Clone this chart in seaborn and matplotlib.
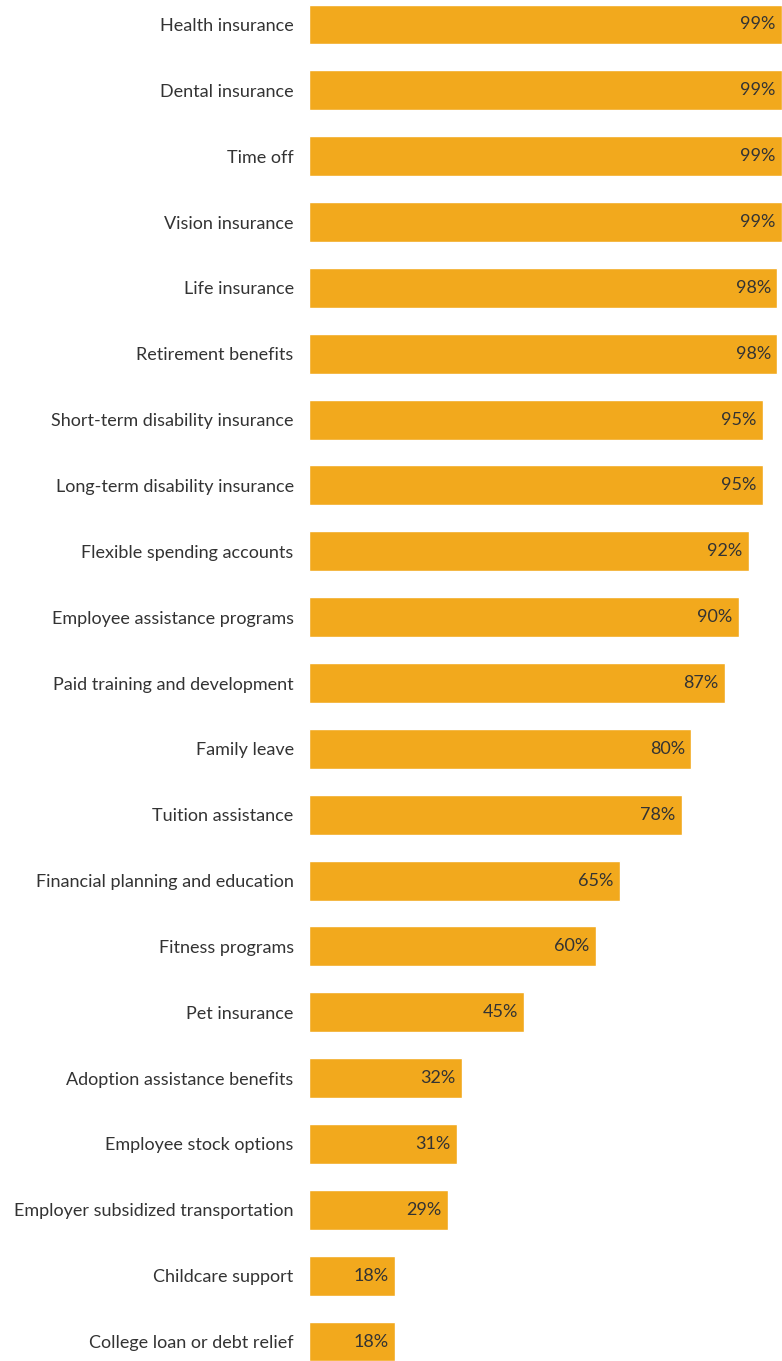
import matplotlib
matplotlib.use("Agg")
import matplotlib.pyplot as plt
import seaborn as sns
import pandas as pd

categories = [
    "Health insurance", "Dental insurance", "Time off", "Vision insurance",
    "Life insurance", "Retirement benefits", "Short-term disability insurance",
    "Long-term disability insurance", "Flexible spending accounts",
    "Employee assistance programs", "Paid training and development",
    "Family leave", "Tuition assistance", "Financial planning and education",
    "Fitness programs", "Pet insurance", "Adoption assistance benefits",
    "Employee stock options", "Employer subsidized transportation",
    "Childcare support", "College loan or debt relief",
]
values = [99, 99, 99, 99, 98, 98, 95, 95, 92, 90, 87, 80, 78, 65, 60, 45, 32, 31, 29, 18, 18]
value_labels = [f"{v}%" for v in values]

BAR_COLOR = "#F2A91D"
TEXT_COLOR = "#333333"

sns.set_theme(style="white")
plt.rcParams['font.family'] = ['Lato', 'DejaVu Sans']

df = pd.DataFrame({"category": categories, "value": values})

fig = plt.figure(figsize=(7.82, 13.61), dpi=100)
ax = fig.add_axes([309 / 782, 0, 473 / 782, 1])
sns.barplot(data=df, y="category", x="value", orient="h", color=BAR_COLOR,
            width=0.607, saturation=1, ax=ax)

ax.set_xlim(0, 99)
ax.set_ylim(20.296, -0.372)
for s in ax.spines.values():
    s.set_visible(False)
ax.set_xticks([])
ax.set_xlabel("")
ax.set_ylabel("")
ax.tick_params(axis="y", length=0, pad=11, labelsize=16, labelcolor=TEXT_COLOR)

# fit the widest category label into the left margin (~282 px)
fig.canvas.draw()
renderer = fig.canvas.get_renderer()
widest = max(t.get_window_extent(renderer).width for t in ax.get_yticklabels())
fs = 16 * 282.0 / widest
ax.tick_params(axis="y", labelsize=fs)

for i, (v, lab) in enumerate(zip(values, value_labels)):
    ax.annotate(lab, xy=(v, i), xytext=(-4.5, 0), textcoords="offset points",
                ha="right", va="center", fontsize=fs, color=TEXT_COLOR)

fig.savefig("out.png", dpi=100)
